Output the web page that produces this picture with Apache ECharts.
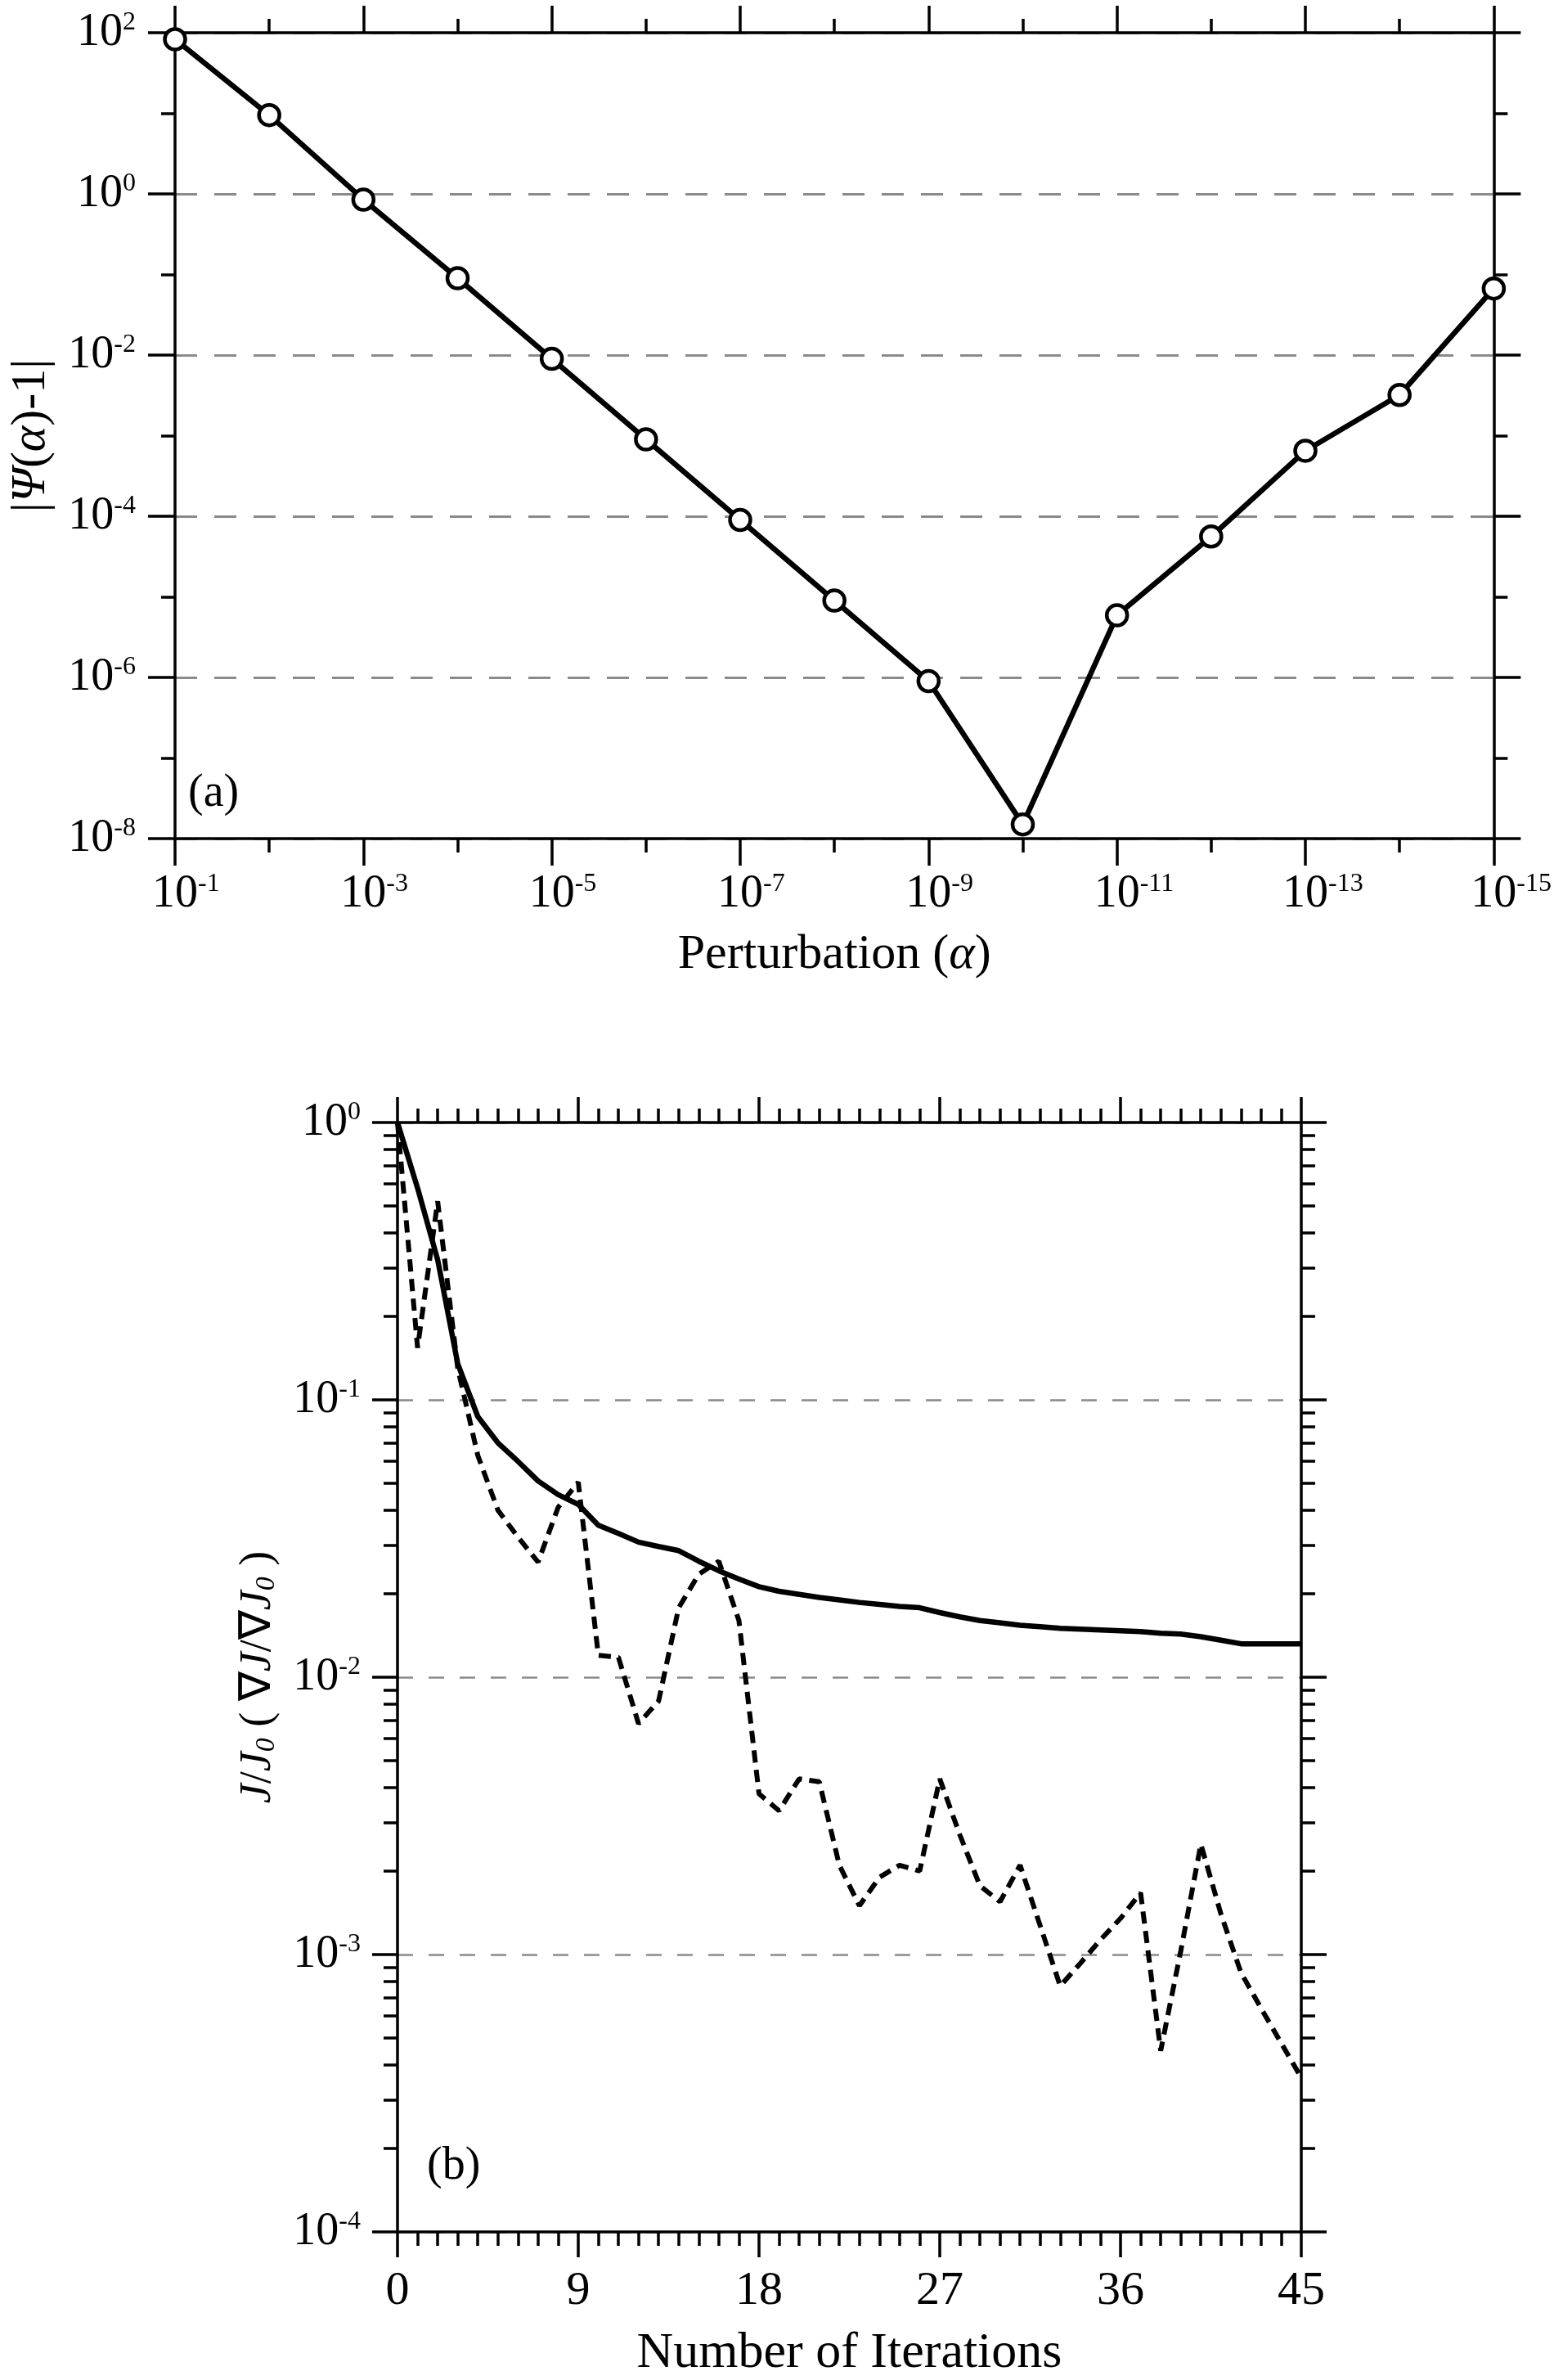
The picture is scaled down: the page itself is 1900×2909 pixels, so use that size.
<!DOCTYPE html>
<html>
<head>
    <meta charset="utf-8">
    <script src="https://cdn.jsdelivr.net/npm/echarts@6/dist/echarts.min.js"></script>
    <style>
        html, body { margin: 0; padding: 0; background: #fff; }
    </style>
</head>
<body>
<div id="main" style="width: 1900px;height:2909px;"></div>
<script type="text/javascript">
    // (a) gradient check: perturbation size vs |Psi(alpha)-1|
    const perturbation = [1e-1, 1e-2, 1e-3, 1e-4, 1e-5, 1e-6, 1e-7, 1e-8,
        1e-9, 1e-10, 1e-11, 1e-12, 1e-13, 1e-14, 1e-15];
    const psiError = [83, 9.5, 0.85, 0.09, 0.009, 9e-4, 9e-5, 9e-6,
        9e-7, 1.5e-8, 5.9e-6, 5.6e-5, 6.5e-4, 3.2e-3, 0.067];

    // (b) convergence history
    const iterations = [0, 1, 2, 3, 4, 5, 6, 7, 8, 9, 10, 11, 12, 13, 14, 15,
        16, 17, 18, 19, 20, 21, 22, 23, 24, 25, 26, 27, 28, 29, 30, 31,
        32, 33, 34, 35, 36, 37, 38, 39, 40, 41, 42, 43, 44, 45];
    const costRatio = [1.0, 0.58, 0.32, 0.135, 0.087, 0.070, 0.060, 0.051,
        0.0455, 0.042, 0.0353, 0.033, 0.0307, 0.0296, 0.0286, 0.0262,
        0.0242, 0.0226, 0.0212, 0.0204, 0.0199, 0.0194, 0.019, 0.0186,
        0.0183, 0.018, 0.0178, 0.0171, 0.0165, 0.016, 0.0157, 0.0154,
        0.0152, 0.015, 0.0149, 0.0148, 0.0147, 0.0146, 0.0144, 0.0143,
        0.014, 0.0136, 0.0132, 0.0132, 0.0132, 0.0132];
    const gradRatio = [1.0, 0.154, 0.52, 0.13, 0.063, 0.040, 0.032, 0.026,
        0.041, 0.0505, 0.012, 0.0118, 0.0068, 0.0082, 0.0178, 0.0235,
        0.0262, 0.0160, 0.0038, 0.0033, 0.0043, 0.0042, 0.0021, 0.0015,
        0.0019, 0.0021, 0.0020, 0.0043, 0.0027, 0.00177, 0.00155, 0.0021,
        0.00127, 0.00077, 0.00093, 0.00113, 0.00135, 0.00167, 0.00045, 0.00103,
        0.0025, 0.0014, 0.00086, 0.00064, 0.00048, 0.00036];

    const iterTicks = [0, 9, 18, 27, 36, 45];

    const FONT = "'Liberation Serif', 'Times New Roman', serif";
    const myChart = echarts.init(document.getElementById('main'));

    const richPow = {
        b: { fontSize: 56, lineHeight: 56, fontFamily: FONT, color: '#000' },
        s: { fontSize: 32, lineHeight: 32, fontFamily: FONT, color: '#000', verticalAlign: 'top' },
        g: { fontSize: 32, lineHeight: 32, fontFamily: FONT, color: 'rgba(0,0,0,0)', verticalAlign: 'top' }
    };

    function expOf(v) {
        return Math.round(Math.log10(v));
    }
    // x labels: ghost copy on the left keeps "10" centred on the tick
    function xPow(v) {
        const e = expOf(v);
        return '{g|' + e + '}{b|10}{s|' + e + '}';
    }
    function yPow(v) {
        return '{b|10}{s|' + expOf(v) + '}';
    }

    const black = { color: '#000', width: 3.5 };
    const frameLine = { show: true, onZero: false, lineStyle: black };

    // builds a ticks-only axis (frame sides and the short ticks)
    function plainAxis(base, extra) {
        return Object.assign({
            axisLabel: { show: false },
            splitLine: { show: false },
            axisLine: { show: false, onZero: false },
            axisTick: { show: true, length: 17, lineStyle: black }
        }, base, extra);
    }

    const topX = { gridIndex: 0, type: 'log', logBase: 10, min: 1e-15, max: 1e-1, inverse: true };
    const topY = { gridIndex: 0, type: 'log', logBase: 10, min: 1e-8, max: 1e2 };
    const botX = { gridIndex: 1, type: 'value', min: 0, max: 45, interval: 9 };
    const botY = { gridIndex: 1, type: 'log', logBase: 10, min: 1e-4, max: 1, interval: 1 };

    const minorTicks = { show: true, splitNumber: 9, length: 17, lineStyle: black };

    const option = {
        animation: false,
        backgroundColor: '#fff',
        grid: [
            { left: 206, top: 40, width: 1635, height: 985 },
            { left: 486, top: 1372, width: 1105, height: 1376 }
        ],
        xAxis: [
            // panel (a) bottom, labelled
            plainAxis(topX, {
                position: 'bottom', interval: 2,
                axisLine: frameLine,
                axisTick: { show: true, length: 33, lineStyle: black },
                axisLabel: {
                    show: true, margin: 40, formatter: xPow, rich: richPow,
                    showMinLabel: true, showMaxLabel: true
                },
                name: 'Perturbation ({i|α})',
                nameLocation: 'middle',
                nameGap: 112,
                nameTextStyle: {
                    fontSize: 60, fontFamily: FONT, color: '#000',
                    rich: { i: { fontSize: 60, fontFamily: FONT, fontStyle: 'italic', color: '#000' } }
                }
            }),
            plainAxis(topX, { position: 'bottom', interval: 1 }),
            plainAxis(topX, {
                position: 'top', interval: 2,
                axisLine: frameLine,
                axisTick: { show: true, length: 33, lineStyle: black }
            }),
            plainAxis(topX, { position: 'top', interval: 1 }),
            // panel (b)
            plainAxis(botX, {
                position: 'bottom',
                axisLine: frameLine,
                axisTick: { show: true, length: 31, lineStyle: black },
                minorTick: minorTicks,
                axisLabel: {
                    show: true, margin: 44, fontSize: 58, fontFamily: FONT, color: '#000',
                    showMinLabel: true, showMaxLabel: true,
                    customValues: iterTicks
                },
                name: 'Number of Iterations',
                nameLocation: 'middle',
                nameGap: 118,
                nameTextStyle: { fontSize: 62, fontFamily: FONT, color: '#000' }
            }),
            plainAxis(botX, {
                position: 'top',
                axisLine: frameLine,
                axisTick: { show: true, length: 31, lineStyle: black },
                minorTick: minorTicks
            })
        ],
        yAxis: [
            // panel (a) left, labelled
            plainAxis(topY, {
                position: 'left', interval: 2,
                axisLine: frameLine,
                axisTick: { show: true, length: 33, lineStyle: black },
                axisLabel: {
                    show: true, margin: 48, formatter: yPow, rich: richPow,
                    showMinLabel: true, showMaxLabel: true
                },
                splitLine: {
                    show: true,
                    lineStyle: { color: '#8a8a8a', width: 3, type: [27, 21] }
                },
                name: '|{i|Ψ}({i|α})-1|',
                nameLocation: 'middle',
                nameGap: 146,
                nameTextStyle: {
                    fontSize: 60, fontFamily: FONT, color: '#000',
                    rich: { i: { fontSize: 60, fontFamily: FONT, fontStyle: 'italic', color: '#000' } }
                }
            }),
            plainAxis(topY, { position: 'left', interval: 1 }),
            plainAxis(topY, {
                position: 'right', interval: 2,
                axisLine: frameLine,
                axisTick: { show: true, length: 33, lineStyle: black }
            }),
            plainAxis(topY, { position: 'right', interval: 1 }),
            // panel (b)
            plainAxis(botY, {
                position: 'left',
                axisLine: frameLine,
                axisTick: { show: true, length: 31, lineStyle: black },
                minorTick: minorTicks,
                axisLabel: {
                    show: true, margin: 45, formatter: yPow, rich: richPow,
                    showMinLabel: true, showMaxLabel: true
                },
                splitLine: {
                    show: true,
                    lineStyle: { color: '#8a8a8a', width: 2.5, type: [19, 19] }
                },
                name: '{i|J}/{i|J}{sub|0} ( ∇{i|J}/∇{i|J}{sub|0} )',
                nameLocation: 'middle',
                nameGap: 143,
                nameTextStyle: {
                    fontSize: 54, fontFamily: FONT, color: '#000',
                    rich: {
                        i: { fontSize: 54, fontFamily: FONT, fontStyle: 'italic', color: '#000' },
                        sub: { fontSize: 34, fontFamily: FONT, fontStyle: 'italic', color: '#000', verticalAlign: 'bottom' }
                    }
                }
            }),
            plainAxis(botY, {
                position: 'right',
                axisLine: frameLine,
                axisTick: { show: true, length: 31, lineStyle: black },
                minorTick: minorTicks
            })
        ],
        graphic: [
            {
                type: 'text', left: 230, top: 942,
                style: { text: '(a)', font: '56px ' + FONT, fill: '#000' }
            },
            {
                type: 'text', left: 522, top: 2620,
                style: { text: '(b)', font: '56px ' + FONT, fill: '#000' }
            }
        ],
        series: [
            {
                type: 'line',
                xAxisIndex: 0, yAxisIndex: 0,
                data: perturbation.map((a, i) => [a, psiError[i]]),
                symbol: 'circle', symbolSize: 25,
                itemStyle: { color: '#fff', borderColor: '#000', borderWidth: 4.5 },
                lineStyle: { color: '#000', width: 6.5 },
                z: 5
            },
            {
                type: 'line',
                xAxisIndex: 4, yAxisIndex: 4,
                data: iterations.map((n, i) => [n, costRatio[i]]),
                showSymbol: false,
                lineStyle: { color: '#000', width: 6.5 },
                z: 5
            },
            {
                type: 'line',
                xAxisIndex: 4, yAxisIndex: 4,
                data: iterations.map((n, i) => [n, gradRatio[i]]),
                showSymbol: false,
                lineStyle: { color: '#000', width: 6, type: [15, 9] },
                z: 5
            }
        ]
    };

    myChart.setOption(option);
</script>
</body>
</html>
